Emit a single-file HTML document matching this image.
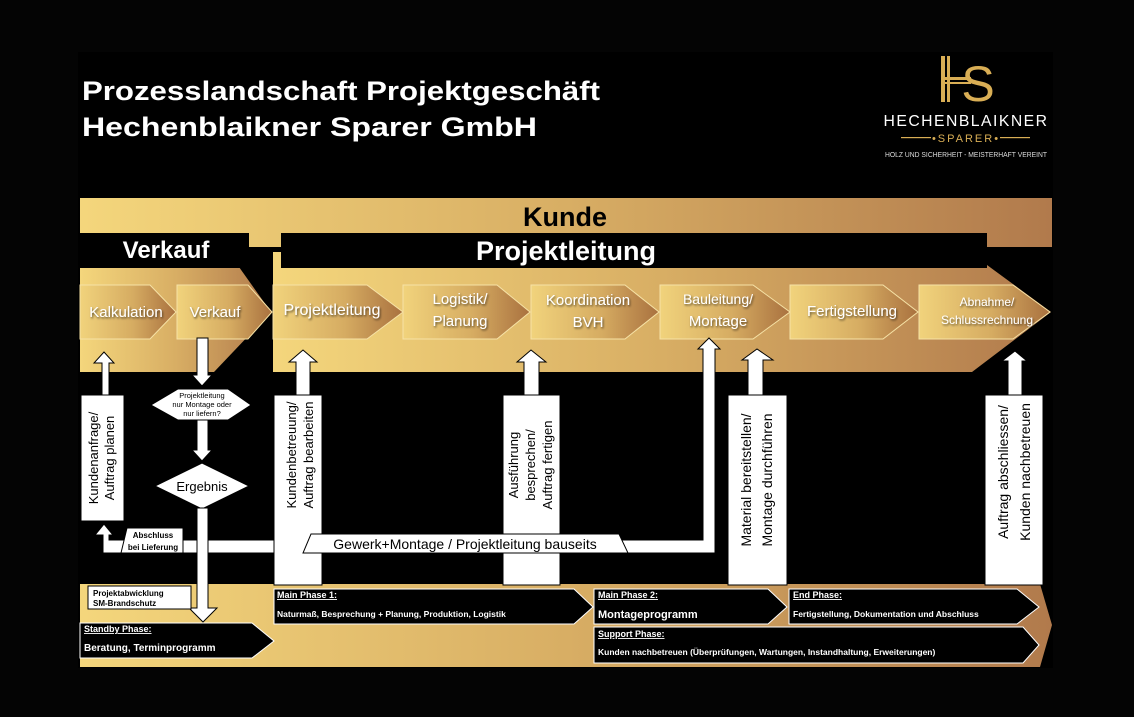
<!DOCTYPE html>
<html><head><meta charset="utf-8"><style>
html,body{margin:0;padding:0;background:#040404;}
svg{display:block;}
text{font-family:"Liberation Sans",sans-serif;}
</style></head><body>
<svg width="1134" height="717" viewBox="0 0 1134 717" xmlns="http://www.w3.org/2000/svg">
<defs>
<linearGradient id="gband" x1="0" x2="1" y1="0" y2="0">
<stop offset="0" stop-color="#f4d67c"/><stop offset="0.5" stop-color="#d8ae64"/><stop offset="1" stop-color="#b17a4c"/></linearGradient>
<linearGradient id="gbox" x1="0" x2="1" y1="0" y2="0">
<stop offset="0" stop-color="#f1d37c"/><stop offset="0.55" stop-color="#d6ac62"/><stop offset="1" stop-color="#a9713f"/></linearGradient>
<filter id="ts"><feDropShadow dx="1" dy="1.5" stdDeviation="1" flood-color="#000" flood-opacity="0.6"/></filter>
</defs>
<rect x="0" y="0" width="1134" height="717" fill="#040404"/>
<rect x="78" y="52" width="975" height="616" fill="#000"/>

<!-- title -->
<text x="82" y="100" fill="#fff" font-size="27" font-weight="bold" textLength="518" lengthAdjust="spacingAndGlyphs">Prozesslandschaft Projektgeschäft</text>
<text x="82" y="136" fill="#fff" font-size="27" font-weight="bold" textLength="455" lengthAdjust="spacingAndGlyphs">Hechenblaikner Sparer GmbH</text>

<!-- logo -->
<g fill="#d9ae55">
<rect x="941" y="56" width="4" height="46"/><rect x="947" y="56" width="3" height="46"/>
<rect x="941" y="77" width="30" height="3"/><rect x="941" y="82" width="30" height="2"/>
</g>
<text x="978" y="101" fill="#d9ae55" font-size="50" font-family="Liberation Serif" text-anchor="middle">S</text>
<text x="966" y="126" fill="#fff" font-size="16" text-anchor="middle" letter-spacing="1.5" textLength="165" lengthAdjust="spacingAndGlyphs">HECHENBLAIKNER</text>
<rect x="901" y="137" width="30" height="1.2" fill="#d9ae55"/><rect x="1000" y="137" width="30" height="1.2" fill="#d9ae55"/>
<text x="966" y="142" fill="#d9ae55" font-size="11" text-anchor="middle" letter-spacing="2">•SPARER•</text>
<text x="966" y="157" fill="#ddd" font-size="7" text-anchor="middle" textLength="162" lengthAdjust="spacingAndGlyphs">HOLZ UND SICHERHEIT - MEISTERHAFT VEREINT</text>

<!-- Kunde band -->
<rect x="80" y="198" width="972" height="49" fill="url(#gband)"/>
<text x="565" y="226" font-size="27" font-weight="bold" fill="#000" text-anchor="middle">Kunde</text>

<!-- Verkauf gold -->
<polygon points="80,267 239,267 271,312 214,372 80,372" fill="url(#gband)"/>
<rect x="78" y="233" width="171" height="35" fill="#000"/>
<text x="166" y="258" font-size="24" font-weight="bold" fill="#fff" text-anchor="middle">Verkauf</text>

<!-- PL gold -->
<polygon points="273,252 987,252 987,265 1051,312 972,372 273,372" fill="url(#gband)"/>
<rect x="281" y="233" width="706" height="35" fill="#000"/>
<text x="566" y="260" font-size="27" font-weight="bold" fill="#fff" text-anchor="middle">Projektleitung</text>

<!-- chevron boxes -->
<g stroke="#f6e2a6" stroke-width="1" fill="url(#gbox)">
<polygon points="80,285 150,285 176,312 150,339 80,339"/>
<polygon points="177,285 248,285 272,312 248,339 177,339"/>
<polygon points="273,285 367,285 403,312 367,339 273,339"/>
<polygon points="403,285 497,285 530,312 497,339 403,339"/>
<polygon points="531,285 625,285 659,312 625,339 531,339"/>
<polygon points="660,285 753,285 790,312 753,339 660,339"/>
<polygon points="790,285 883,285 918,312 883,339 790,339"/>
<polygon points="919,285 1013,285 1050,312 1013,339 919,339"/>
</g>
<g fill="#fff" filter="url(#ts)" font-size="15">
<text x="126" y="317" text-anchor="middle">Kalkulation</text>
<text x="215" y="317" text-anchor="middle">Verkauf</text>
<text x="332" y="315" text-anchor="middle" font-size="16">Projektleitung</text>
<text x="460" y="304" text-anchor="middle">Logistik/</text>
<text x="460" y="326" text-anchor="middle">Planung</text>
<text x="588" y="305" text-anchor="middle">Koordination</text>
<text x="588" y="327" text-anchor="middle">BVH</text>
<text x="718" y="304" text-anchor="middle" font-size="14">Bauleitung/</text>
<text x="718" y="326" text-anchor="middle">Montage</text>
<text x="852" y="316" text-anchor="middle">Fertigstellung</text>
<text x="987" y="306" text-anchor="middle" font-size="12">Abnahme/</text>
<text x="987" y="324" text-anchor="middle" font-size="12">Schlussrechnung</text>
</g>

<!-- phase band -->
<polygon points="80,584 1040,584 1052,625 1040,667 80,667" fill="url(#gband)"/>

<!-- white arrows & labels -->
<g fill="#fff" stroke="#000" stroke-width="1">
<!-- Kundenanfrage -->
<polygon points="102,398 102,363 94,363 104,352 114,363 109,363 109,398"/>
<rect x="81" y="395" width="43" height="126"/>
<!-- bottom loop arrow -->
<polygon points="103,540 103,535 95,535 104,524 113,535 109,535 109,540 703,540 703,349 698,349 709,338 720,349 715,349 715,553 103,553"/>
<!-- Kundenbetreuung -->
<polygon points="296,398 296,362 289,362 303,350 317,362 310,362 310,398"/>
<rect x="274" y="395" width="48" height="190"/>
<!-- Ausführung -->
<polygon points="524,398 524,362 517,362 531,350 546,362 539,362 539,398"/>
<rect x="503" y="395" width="57" height="190"/>
<!-- Material -->
<polygon points="748,398 748,360 742,360 757,349 773,360 763,360 763,398"/>
<rect x="728" y="395" width="59" height="190"/>
<!-- Auftrag abschliessen -->
<polygon points="1008,398 1008,361 1002,361 1015,351 1027,361 1022,361 1022,398"/>
<rect x="985" y="395" width="58" height="190"/>
<!-- Verkauf down -->
<polygon points="197,338 208,338 208,375 212,375 202,386 192,375 197,375"/>
<polygon points="178,389 228,389 251,405 228,420 178,420 151,405"/>
<polygon points="197,420 208,420 208,450 212,450 202,461 192,450 197,450"/>
<polygon points="202,463 249,486 202,509 155,486"/>
<polygon points="197,508 208,508 208,608 217,608 203,622 189,608 197,608"/>
<!-- tabs -->
<polygon points="311,534 619,534 628,553 303,553"/>
<polygon points="127,528 183,528 183,553 121,553"/>
</g>
<g fill="#000">
<text x="202" y="398" font-size="7.5" text-anchor="middle">Projektleitung</text>
<text x="202" y="407" font-size="7.5" text-anchor="middle">nur Montage oder</text>
<text x="202" y="416" font-size="7.5" text-anchor="middle">nur liefern?</text>
<text x="202" y="491" font-size="13" text-anchor="middle">Ergebnis</text>
<text x="465" y="549" font-size="14" text-anchor="middle">Gewerk+Montage / Projektleitung bauseits</text>
<text x="153" y="538" font-size="8" font-weight="bold" text-anchor="middle">Abschluss</text>
<text x="153" y="550" font-size="8" font-weight="bold" text-anchor="middle">bei Lieferung</text>
<g font-size="13">
<text transform="translate(98,458) rotate(-90)" text-anchor="middle">Kundenanfrage/</text>
<text transform="translate(114,458) rotate(-90)" text-anchor="middle">Auftrag planen</text>
<text transform="translate(296,455) rotate(-90)" text-anchor="middle">Kundenbetreuung/</text>
<text transform="translate(313,455) rotate(-90)" text-anchor="middle">Auftrag bearbeiten</text>
<text transform="translate(518,465) rotate(-90)" text-anchor="middle">Ausführung</text>
<text transform="translate(535,465) rotate(-90)" text-anchor="middle">besprechen/</text>
<text transform="translate(552,465) rotate(-90)" text-anchor="middle">Auftrag fertigen</text>
<text transform="translate(751,480) rotate(-90)" text-anchor="middle" font-size="14">Material bereitstellen/</text>
<text transform="translate(772,480) rotate(-90)" text-anchor="middle" font-size="14">Montage durchführen</text>
<text transform="translate(1008,472) rotate(-90)" text-anchor="middle" font-size="14">Auftrag abschliessen/</text>
<text transform="translate(1030,472) rotate(-90)" text-anchor="middle" font-size="14">Kunden nachbetreuen</text>
</g>
</g>

<!-- phase boxes -->
<rect x="88" y="586" width="103" height="23" fill="#fff" stroke="#000" stroke-width="1"/>
<text x="93" y="596" font-size="8" font-weight="bold" fill="#000">Projektabwicklung</text>
<text x="93" y="606" font-size="8" font-weight="bold" fill="#000">SM-Brandschutz</text>
<g fill="#000" stroke="#fff" stroke-width="1">
<polygon points="80,623 252,623 274,641 252,658 80,658"/>
<polygon points="274,589 574,589 593,607 574,624 274,624"/>
<polygon points="594,589 768,589 787,607 768,624 594,624"/>
<polygon points="789,589 1017,589 1039,607 1017,624 789,624"/>
<polygon points="594,627 1023,627 1039,645 1023,663 594,663"/>
</g>
<g fill="#fff" font-weight="bold" font-size="9">
<text x="84" y="632" text-decoration="underline">Standby Phase:</text>
<text x="84" y="651" font-size="10">Beratung, Terminprogramm</text>
<text x="277" y="598" text-decoration="underline">Main Phase 1:</text>
<text x="277" y="617" font-size="8.5">Naturmaß, Besprechung + Planung, Produktion, Logistik</text>
<text x="598" y="598" text-decoration="underline">Main Phase 2:</text>
<text x="598" y="618" font-size="11">Montageprogramm</text>
<text x="793" y="598" text-decoration="underline">End Phase:</text>
<text x="793" y="617" font-size="8.5">Fertigstellung, Dokumentation und Abschluss</text>
<text x="598" y="637" text-decoration="underline">Support Phase:</text>
<text x="598" y="655" font-size="8.5">Kunden nachbetreuen (Überprüfungen, Wartungen, Instandhaltung, Erweiterungen)</text>
</g>
</svg>
</body></html>
